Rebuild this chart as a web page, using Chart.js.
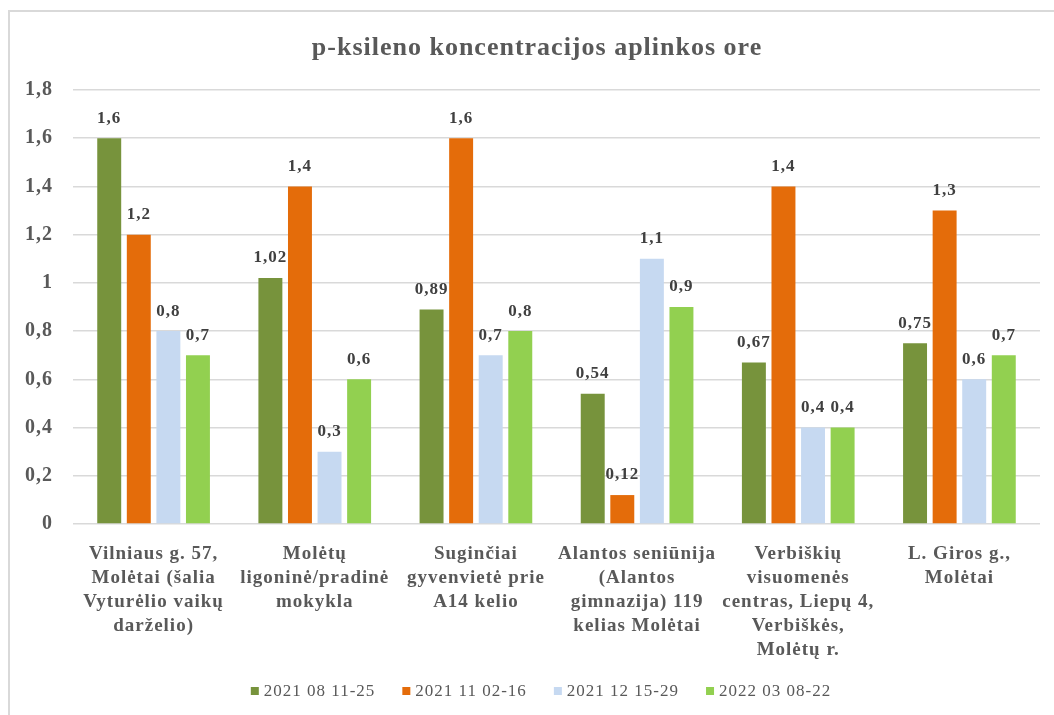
<!DOCTYPE html>
<html>
<head>
<meta charset="utf-8">
<script src="https://cdn.jsdelivr.net/npm/chart.js@4"></script>
<style>
    body { margin: 0; background: #fff; }
    canvas { display: block; }
</style>
</head>
<body>
<canvas id="chart" width="1054" height="715"></canvas>
<script>
const categories = [
    ['Vilniaus g. 57,', 'Molėtai (šalia', 'Vyturėlio vaikų', 'darželio)'],
    ['Molėtų', 'ligoninė/pradinė', 'mokykla'],
    ['Suginčiai', 'gyvenvietė prie', 'A14 kelio'],
    ['Alantos seniūnija', '(Alantos', 'gimnazija) 119', 'kelias Molėtai'],
    ['Verbiškių', 'visuomenės', 'centras, Liepų 4,', 'Verbiškės,', 'Molėtų r.'],
    ['L. Giros g.,', 'Molėtai']
];
const seriesNames = ['2021 08 11-25', '2021 11 02-16', '2021 12 15-29', '2022 03 08-22'];
const aug2021 = [1.6, 1.02, 0.89, 0.54, 0.67, 0.75];
const nov2021 = [1.2, 1.4, 1.6, 0.12, 1.4, 1.3];
const dec2021 = [0.8, 0.3, 0.7, 1.1, 0.4, 0.6];
const mar2022 = [0.7, 0.6, 0.8, 0.9, 0.4, 0.7];
const yTicks = { min: 0, max: 1.8, step: 0.2 };

const colors = ['#77933C', '#E46C0A', '#C6D9F1', '#92D050'];
const SERIF = "'Liberation Serif', 'Times New Roman', serif";
const TITLE = 'p-ksileno koncentracijos aplinkos ore';

// Lithuanian decimal comma
function fmt(v) {
    return String(Math.round(v * 100) / 100).replace('.', ',');
}

const spacingPlugin = {
    id: 'spacing',
    beforeLayout(chart) { chart.ctx.letterSpacing = '1px'; },
    beforeDraw(chart) { chart.ctx.letterSpacing = '1px'; }
};

const decorPlugin = {
    id: 'decor',
    beforeDraw(chart) {
        const ctx = chart.ctx;
        ctx.save();
        // frame (only top / left edges visible in the picture)
        ctx.strokeStyle = '#d9d9d9';
        ctx.lineWidth = 2;
        ctx.beginPath();
        ctx.moveTo(9, 715);
        ctx.lineTo(9, 11);
        ctx.lineTo(1054, 11);
        ctx.stroke();

        // title
        ctx.fillStyle = '#595959';
        ctx.font = 'bold 26px ' + SERIF;
        ctx.textAlign = 'center';
        ctx.textBaseline = 'middle';
        ctx.fillText(TITLE, 537, 48);
        ctx.restore();
    },
    afterDatasetsDraw(chart) {
        const ctx = chart.ctx;
        ctx.save();
        ctx.fillStyle = '#404040';
        ctx.font = 'bold 17px ' + SERIF;
        ctx.textAlign = 'center';
        ctx.textBaseline = 'middle';
        chart.data.datasets.forEach((ds, i) => {
            chart.getDatasetMeta(i).data.forEach((bar, j) => {
                ctx.fillText(fmt(ds.data[j]), bar.x, bar.y - 20);
            });
        });
        ctx.restore();
    },
    afterDraw(chart) {
        // legend along the bottom
        const ctx = chart.ctx;
        ctx.save();
        ctx.font = '17px ' + SERIF;
        ctx.textBaseline = 'middle';
        ctx.textAlign = 'left';
        const box = 8, gapText = 5, gapItem = 27, cy = 691;
        const items = chart.data.datasets.map(ds => ({
            label: ds.label, color: ds.backgroundColor, w: ctx.measureText(ds.label).width
        }));
        let total = 0;
        items.forEach((it, i) => { total += box + gapText + it.w + (i ? gapItem : 0); });
        let x = 541 - total / 2;
        items.forEach(it => {
            ctx.fillStyle = it.color;
            ctx.fillRect(x, cy - box / 2, box, box);
            ctx.fillStyle = '#595959';
            ctx.fillText(it.label, x + box + gapText, cy + 1);
            x += box + gapText + it.w + gapItem;
        });
        ctx.restore();
    }
};

const series = [aug2021, nov2021, dec2021, mar2022];

new Chart(document.getElementById('chart'), {
    type: 'bar',
    data: {
        labels: categories,
        datasets: series.map((data, i) => ({
            label: seriesNames[i],
            data: data,
            backgroundColor: colors[i],
            categoryPercentage: 0.734,
            barPercentage: 0.81
        }))
    },
    options: {
        responsive: false,
        animation: false,
        devicePixelRatio: 1,
        layout: { padding: { left: 0, right: 14, top: 90, bottom: 0 } },
        plugins: {
            legend: { display: false },
            title: { display: false },
            tooltip: { enabled: false }
        },
        scales: {
            x: {
                grid: { display: false },
                border: { display: false },
                ticks: {
                    color: '#595959',
                    font: { family: SERIF, size: 19, weight: 'bold', lineHeight: 24 / 19 },
                    padding: 10,
                    maxRotation: 0,
                    autoSkip: false
                },
                afterFit(scale) { scale.height = 191; }
            },
            y: {
                min: yTicks.min,
                max: yTicks.max,
                grid: { color: '#d9d9d9', lineWidth: 1.5, drawTicks: false },
                border: { display: false },
                ticks: {
                    stepSize: yTicks.step,
                    color: '#595959',
                    font: { family: SERIF, size: 20, weight: 'bold' },
                    padding: 20,
                    callback: v => fmt(v)
                },
                afterFit(scale) { scale.width = 73; }
            }
        }
    },
    plugins: [spacingPlugin, decorPlugin]
});
</script>
</body>
</html>
